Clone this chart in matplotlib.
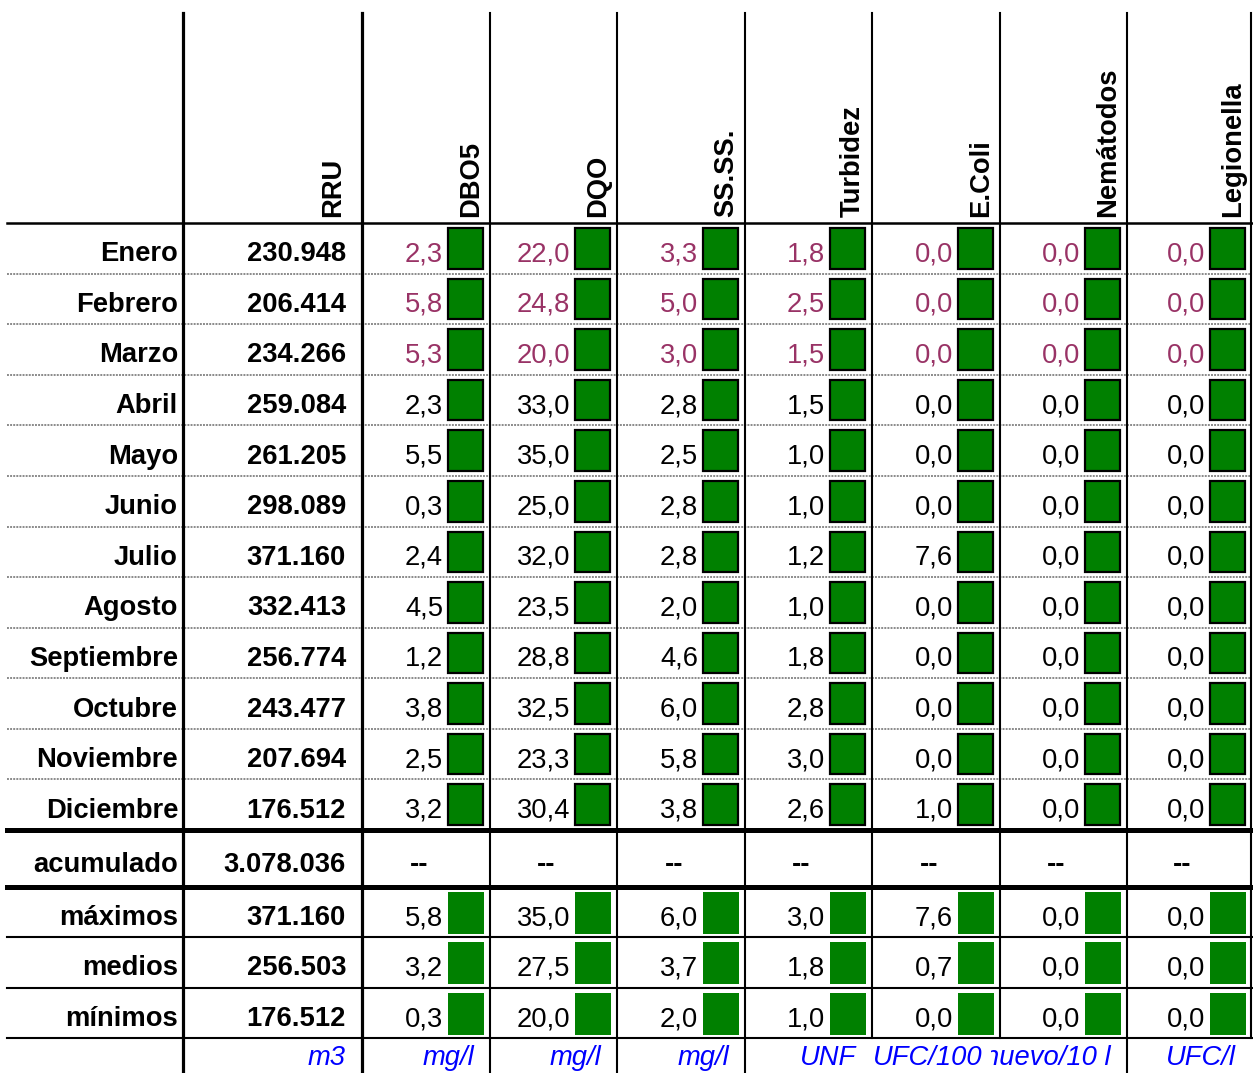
import matplotlib.pyplot as plt
from matplotlib.patches import Rectangle
from matplotlib.transforms import Bbox, TransformedBbox

plt.rcParams['font.family'] = ['Liberation Sans', 'DejaVu Sans']

# Table data
months = ['Enero', 'Febrero', 'Marzo', 'Abril', 'Mayo', 'Junio', 'Julio',
          'Agosto', 'Septiembre', 'Octubre', 'Noviembre', 'Diciembre']
params = ['DBO5', 'DQO', 'SS.SS.', 'Turbidez', 'E.Coli', 'Nemátodos', 'Legionella']

rru = [230948, 206414, 234266, 259084, 261205, 298089, 371160,
       332413, 256774, 243477, 207694, 176512]
rru_total = 3078036

dbo5 = [2.3, 5.8, 5.3, 2.3, 5.5, 0.3, 2.4, 4.5, 1.2, 3.8, 2.5, 3.2]
dqo = [22.0, 24.8, 20.0, 33.0, 35.0, 25.0, 32.0, 23.5, 28.8, 32.5, 23.3, 30.4]
ssss = [3.3, 5.0, 3.0, 2.8, 2.5, 2.8, 2.8, 2.0, 4.6, 6.0, 5.8, 3.8]
turbidez = [1.8, 2.5, 1.5, 1.5, 1.0, 1.0, 1.2, 1.0, 1.8, 2.8, 3.0, 2.6]
ecoli = [0.0, 0.0, 0.0, 0.0, 0.0, 0.0, 7.6, 0.0, 0.0, 0.0, 0.0, 1.0]
nematodos = [0.0] * 12
legionella = [0.0] * 12
values = [dbo5, dqo, ssss, turbidez, ecoli, nematodos, legionella]

summary_labels = ['máximos', 'medios', 'mínimos']
summary_rru = [371160, 256503, 176512]
summary_vals = [
    [5.8, 35.0, 6.0, 3.0, 7.6, 0.0, 0.0],
    [3.2, 27.5, 3.7, 1.8, 0.7, 0.0, 0.0],
    [0.3, 20.0, 2.0, 1.0, 0.0, 0.0, 0.0],
]
units = ['m3', 'mg/l', 'mg/l', 'mg/l', 'UNF', 'UFC/100', 'huevo/10 l', 'UFC/l']

# Layout (pixels)
W, H = 1253, 1073
FS = 19.7
purple = '#993366'
green = '#008000'
blue = '#0000ff'

label_right = 178
rru_left, rru_right = 183, 362
col_rights = [490, 617, 745, 872, 1000, 1127, 1252]
col_lefts = [362] + col_rights[:-1]
x0, x1 = 7, 1252
top = 13
head_bot = 223
month_h = (830 - head_bot) / 12
acum_top, acum_bot = 830, 887
sum_tops = [887, 937, 988]
sum_h = 50.5
units_top = 1038

fig = plt.figure(figsize=(W / 100, H / 100), dpi=100)
ax = fig.add_axes([0, 0, 1, 1])
ax.set_xlim(0, W)
ax.set_ylim(H, 0)
ax.axis('off')


def fmt1(v):
    return f'{v:.1f}'.replace('.', ',')


def fmt_int(v):
    return f'{v:,}'.replace(',', '.')


# Header
ax.text(340, 217, 'RRU', rotation=90, rotation_mode='anchor', ha='left',
        va='baseline', fontsize=FS, fontweight='bold')
for p, r in zip(params, col_rights):
    ax.text(r - 12, 217, p, rotation=90, rotation_mode='anchor', ha='left',
            va='baseline', fontsize=FS, fontweight='bold')

# Month rows
for i, m in enumerate(months):
    t = head_bot + i * month_h
    base = t + month_h / 2 + 13
    ax.text(label_right, base, m, ha='right', va='baseline', fontsize=FS, fontweight='bold')
    ax.text(346, base, fmt_int(rru[i]), ha='right', va='baseline', fontsize=FS, fontweight='bold')
    color = purple if i < 3 else 'black'
    for j, r in enumerate(col_rights):
        ax.text(r - 47, base, fmt1(values[j][i]), ha='right', va='baseline',
                fontsize=FS, color=color)
        ax.add_patch(Rectangle((r - 42, t + 5), 35, month_h - 10, facecolor=green,
                               edgecolor='black', linewidth=1.6, zorder=3))
    if i > 0:
        ax.plot([x0, x1], [t, t], color='#8a8a8a', lw=1.4, linestyle=(0, (1, 0.6)), zorder=1)

# Acumulado row
base = (acum_top + acum_bot) / 2 + 13
ax.text(label_right, base, 'acumulado', ha='right', va='baseline', fontsize=FS, fontweight='bold')
ax.text(346, base, fmt_int(rru_total), ha='right', va='baseline', fontsize=FS, fontweight='bold')
for l, r in zip(col_lefts, col_rights):
    ax.text((l + r) / 2 - 7, base, '--', ha='center', va='baseline', fontsize=FS, fontweight='bold')

# Summary rows
for k, lab in enumerate(summary_labels):
    t = sum_tops[k]
    base = t + sum_h / 2 + 13
    ax.text(label_right, base, lab, ha='right', va='baseline', fontsize=FS, fontweight='bold')
    ax.text(346, base, fmt_int(summary_rru[k]), ha='right', va='baseline', fontsize=FS, fontweight='bold')
    for j, r in enumerate(col_rights):
        ax.text(r - 47, base, fmt1(summary_vals[k][j]), ha='right', va='baseline', fontsize=FS)
        ax.add_patch(Rectangle((r - 42, t + 5), 36, sum_h - 9, facecolor=green,
                               edgecolor='none', zorder=3))

# Units row
ubase = 1065
unit_x = [346] + [r - 16 for r in col_rights]
for j, u in enumerate(units):
    if u == 'UFC/100':
        ax.text(873, ubase, u, ha='left', va='baseline', fontsize=FS, style='italic', color=blue)
    elif u.startswith('huevo'):
        # text overflowing into the E.Coli cell is cut off, as in the sheet
        txt = ax.text(unit_x[j], ubase, u, ha='right', va='baseline', fontsize=FS,
                      style='italic', color=blue)
        txt.set_clip_path(None)
        txt.set_clip_box(TransformedBbox(Bbox([[991, units_top], [1131, H]]), ax.transData))
        txt.set_clip_on(True)
    else:
        ax.text(unit_x[j], ubase, u, ha='right', va='baseline', fontsize=FS,
                style='italic', color=blue)

# Horizontal rules
ax.plot([x0, x1], [head_bot, head_bot], color='black', lw=1.8)
for y in (acum_top, acum_bot):
    ax.plot([x0, x1], [y, y], color='black', lw=3.6)
for y in (937, 988, units_top):
    ax.plot([x0, x1], [y, y], color='black', lw=1.5)

# Vertical rules
for x in (rru_left, rru_right):
    ax.plot([x, x], [top, H], color='black', lw=2.3)
for x in (490, 617, 745, 1127):
    ax.plot([x, x], [top, H], color='black', lw=1.5)
for x in (872, 1000, 1251):
    ax.plot([x, x], [top, units_top], color='black', lw=1.5)

fig.savefig('out.png', dpi=100)
